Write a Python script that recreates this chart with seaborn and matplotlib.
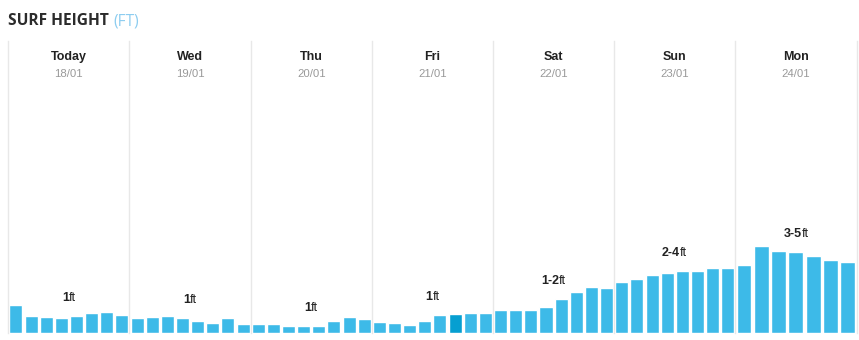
import matplotlib
matplotlib.use("Agg")
import matplotlib.pyplot as plt
import seaborn as sns
import pandas as pd
from matplotlib.offsetbox import TextArea, HPacker, AnnotationBbox

# Forecast days
days = ["Today", "Wed", "Thu", "Fri", "Sat", "Sun", "Mon"]
dates = ["18/01", "19/01", "20/01", "21/01", "22/01", "23/01", "24/01"]

# Surf height (ft) for each 3-hour slot of each day
today = [1.4, 0.85, 0.8, 0.75, 0.85, 1.0, 1.05, 0.9]
wed = [0.75, 0.8, 0.85, 0.75, 0.6, 0.5, 0.75, 0.45]
thu = [0.45, 0.45, 0.35, 0.35, 0.35, 0.6, 0.8, 0.7]
fri = [0.55, 0.5, 0.4, 0.6, 0.9, 0.95, 1.0, 1.0]
sat = [1.15, 1.15, 1.15, 1.3, 1.7, 2.05, 2.3, 2.25]
sun = [2.55, 2.7, 2.9, 3.0, 3.1, 3.1, 3.25, 3.25]
mon = [3.4, 4.35, 4.1, 4.05, 3.85, 3.65, 3.55]
heights = [today, wed, thu, fri, sat, sun, mon]

# Daily range labels: bold figure part + unit
ranges = ["1", "1", "1", "1", "1-2", "2-4", "3-5"]
unit = "ft"

# The current slot (Fri, 6th slot) is highlighted
current_day = 3
current_slot = 5

BAR = "#3dbae8"
BAR_NOW = "#069fd1"
GRID = "#e8e8e8"

sns.set_theme(style="white")
plt.rcParams["font.family"] = ["Liberation Sans", "DejaVu Sans"]

W, H = 859, 340
fig = plt.figure(figsize=(W / 100, H / 100), dpi=100)
axes = fig.subplots(1, len(days), sharey=True, gridspec_kw=dict(wspace=0))
fig.subplots_adjust(left=8.3 / W, right=856.5 / W, bottom=(H - 333) / H, top=(H - 41) / H)

for d, ax in enumerate(axes):
    vals = heights[d]
    n = len(vals)
    slots = [str(i) for i in range(n)]
    colors = [BAR_NOW if (d == current_day and i == current_slot) else BAR for i in range(n)]
    df = pd.DataFrame({"slot": slots, "height": vals})
    sns.barplot(data=df, x="slot", y="height", hue="slot", palette=colors,
                width=0.86, saturation=1, dodge=False, legend=False, ax=ax)
    ax.set_xlim(-0.5, n - 0.5)
    ax.set_ylim(0, 292 / 20)
    ax.set_xlabel("")
    ax.set_ylabel("")
    ax.set_xticks([])
    ax.set_yticks([])
    for side in ("top", "bottom", "right"):
        ax.spines[side].set_visible(False)
    ax.spines["left"].set_color(GRID)
    ax.spines["left"].set_linewidth(1)
    if d == len(days) - 1:
        ax.spines["right"].set_visible(True)
        ax.spines["right"].set_color(GRID)
        ax.spines["right"].set_linewidth(1)

    # Day name and date in the column header
    ax.annotate(days[d], xy=(0.5, 1), xycoords="axes fraction", xytext=(0, -16 * 0.72),
                textcoords="offset points", ha="center", va="center",
                fontsize=9, fontweight="bold", color="#222222")
    ax.annotate(dates[d], xy=(0.5, 1), xycoords="axes fraction", xytext=(0, -33 * 0.72),
                textcoords="offset points", ha="center", va="center",
                fontsize=8.2, color="#999999")

    # Range label above the middle of the day
    mid = max(vals[(n - 1) // 2], vals[n // 2])
    label = HPacker(children=[
        TextArea(ranges[d], textprops=dict(fontsize=9, fontweight="bold", color="#222222")),
        TextArea(unit, textprops=dict(fontsize=9, color="#222222")),
    ], sep=0, pad=0, align="baseline")
    ab = AnnotationBbox(label, xy=((n - 1) / 2, mid), xycoords="data",
                        xybox=(0, 18 * 0.72), boxcoords="offset points",
                        box_alignment=(0.5, 0.5), frameon=False, pad=0)
    ax.add_artist(ab)

# Title
renderer = fig.canvas.get_renderer()
t1 = fig.text(8 / W, 1 - 21 / H, "SURF HEIGHT", ha="left", va="center",
              fontsize=11.2, fontweight="bold", color="#2b2b2b", family="Open Sans")
bb = t1.get_window_extent(renderer)
fig.text((bb.x1 + 5) / W, 1 - 21 / H, "(FT)", ha="left", va="center",
         fontsize=11.2, color="#8dcdf0", family="Open Sans")

fig.savefig("out.png", dpi=100)
